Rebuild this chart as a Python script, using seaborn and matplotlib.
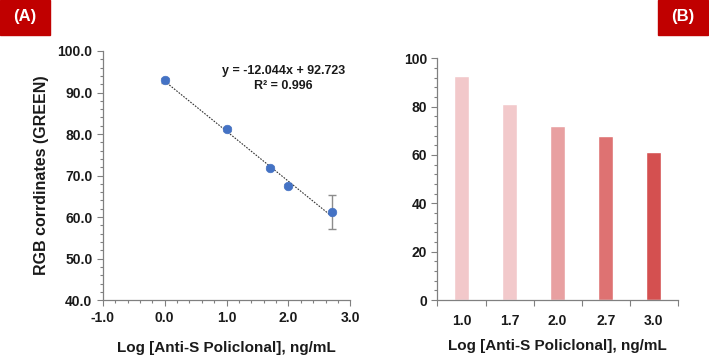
import numpy as np
import pandas as pd
import seaborn as sns
import matplotlib.pyplot as plt
from matplotlib.ticker import MultipleLocator, FixedLocator

# Daten
log_konz = [0.0, 1.0, 1.7, 2.0, 2.7]
gruen = [93.0, 81.2, 71.9, 67.6, 61.2]
gruen_fehler = [0.6, 0.4, 0.4, 0.4, 4.0]
steigung = -12.044
achsenabschnitt = 92.723

balken_labels = ["1.0", "1.7", "2.0", "2.7", "3.0"]
balken_werte = [92.8, 81.1, 71.8, 67.7, 61.2]
balken_farben = ["#f2c8ca", "#f2c9cb", "#e8a0a1", "#de7272", "#d45050"]

sns.set_style("ticks")
plt.rcParams['font.family'] = ['Liberation Sans', 'DejaVu Sans']
plt.rcParams['font.weight'] = 'bold'

fig = plt.figure(figsize=(7.09, 3.59), dpi=100)
ax1 = fig.add_axes([0.145, 0.164, 0.349, 0.694])
ax2 = fig.add_axes([0.617, 0.164, 0.339, 0.674])

spine_farbe = "#808080"
text_farbe = "#1a1a1a"

# Panel A
df_a = pd.DataFrame({"x": log_konz, "y": gruen})
x_fit = np.array([min(log_konz), max(log_konz)])
df_fit = pd.DataFrame({"x": x_fit, "y": steigung * x_fit + achsenabschnitt})
sns.lineplot(data=df_fit, x="x", y="y", ax=ax1, color="#333333", lw=0.8,
             linestyle=(0, (1.5, 1.2)), zorder=2)
ax1.errorbar(log_konz, gruen, yerr=gruen_fehler, fmt="none", ecolor="#8c8c8c",
             elinewidth=1.0, capsize=3, capthick=1.0, zorder=1)
sns.scatterplot(data=df_a, x="x", y="y", ax=ax1, color="#4472c4", s=38,
                edgecolor="#4472c4", zorder=3)
ax1.set_xlim(-1.0, 3.0)
ax1.set_ylim(40.0, 100.0)
ax1.xaxis.set_major_locator(MultipleLocator(1.0))
ax1.xaxis.set_minor_locator(MultipleLocator(0.2))
ax1.yaxis.set_major_locator(MultipleLocator(10.0))
ax1.yaxis.set_minor_locator(MultipleLocator(2.0))
ax1.set_xticklabels([f"{v:.1f}" for v in ax1.get_xticks()])
ax1.set_yticklabels([f"{v:.1f}" for v in ax1.get_yticks()])
ax1.set_xlabel("Log [Anti-S Policlonal], ng/mL", fontsize=11, fontweight="bold",
               color=text_farbe, labelpad=12)
ax1.set_ylabel("RGB corrdinates (GREEN)", fontsize=11.5, fontweight="bold",
               color=text_farbe, labelpad=6)
ax1.text(1.92, 93.3, "y = -12.044x + 92.723\nR² = 0.996", ha="center", va="center",
         fontsize=9, fontweight="bold", color=text_farbe, linespacing=1.3)

# Panel B
df_b = pd.DataFrame({"konz": balken_labels, "wert": balken_werte})
sns.barplot(data=df_b, x="konz", y="wert", hue="konz", palette=balken_farben,
            legend=False, width=0.31, ax=ax2, saturation=1)
ax2.set_xlim(-0.5, 4.5)
ax2.set_ylim(0, 100)
ax2.yaxis.set_major_locator(MultipleLocator(20))
ax2.yaxis.set_minor_locator(MultipleLocator(4))
ax2.xaxis.set_minor_locator(FixedLocator(np.arange(-0.5, 5.0, 1.0)))
ax2.set_xlabel("Log [Anti-S Policlonal], ng/mL", fontsize=11, fontweight="bold",
               color=text_farbe, labelpad=8)
ax2.set_ylabel("")

for ax in (ax1, ax2):
    sns.despine(ax=ax)
    for s in ("left", "bottom"):
        ax.spines[s].set_color(spine_farbe)
        ax.spines[s].set_linewidth(0.9)
    ax.tick_params(axis="both", which="both", colors=spine_farbe, labelcolor=text_farbe,
                   labelsize=10, width=0.8)
    ax.tick_params(axis="y", which="major", length=4)
    ax.tick_params(axis="y", which="minor", length=2.5)
    for lbl in ax.get_xticklabels() + ax.get_yticklabels():
        lbl.set_fontweight("bold")
ax1.tick_params(axis="x", which="major", length=4)
ax1.tick_params(axis="x", which="minor", length=2.5)
ax2.tick_params(axis="x", which="major", length=0, pad=10)
ax2.tick_params(axis="x", which="minor", length=4)

# Panel-Kennzeichnungen
for x0, label in ((0.0, "(A)"), (658 / 709, "(B)")):
    fig.patches.append(plt.Rectangle((x0, 1 - 35 / 359), 50 / 709, 35 / 359,
                                     transform=fig.transFigure, color="#c00000",
                                     zorder=5))
    fig.text(x0 + 25 / 709, 1 - 17 / 359, label, ha="center", va="center",
             color="white", fontsize=12, fontweight="bold", zorder=6)

plt.savefig("out.png", dpi=100)
